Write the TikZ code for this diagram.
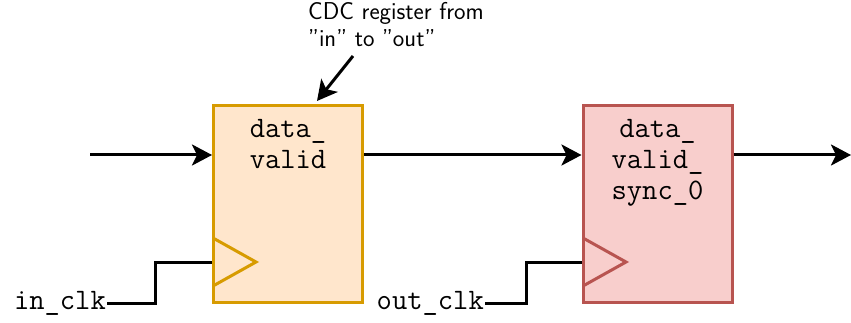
\documentclass[tikz,border=0pt]{standalone}
\usepackage{fontspec}
\usetikzlibrary{arrows.meta}
\definecolor{ffill}{HTML}{FFE6CC}
\definecolor{fline}{HTML}{D79B00}
\definecolor{sfill}{HTML}{F8CECC}
\definecolor{sline}{HTML}{B85450}
\tikzset{
  wire/.style={line width=3pt, black},
  sig/.style={wire, -{Stealth[length=20pt, width=21pt, inset=5pt]}},
  reg/.style={draw, line width=3pt, minimum width=149pt, minimum height=196pt, inner sep=0pt},
  regtext/.style={anchor=base, inner sep=0pt, font=\ttfamily\fontsize{29.7}{31}\selectfont},
  clklabel/.style={anchor=east, inner sep=1pt, text height=12pt, text depth=0pt,
                   font=\ttfamily\fontsize{29.7}{31}\selectfont},
  note/.style={anchor=base west, inner sep=0pt, font=\sffamily\fontsize{24.4}{27}\selectfont}
}
\begin{document}
\begin{tikzpicture}[x=1pt, y=-1pt]
  \useasboundingbox (0,0) rectangle (851,323);

  % registers
  \node[reg, fill=ffill, draw=fline] (r1) at (288,204) {};
  \node[reg, fill=sfill, draw=sline] (r2) at (657.5,204) {};
  \node[regtext] (t1) at (288,138) {\begin{tabular}[t]{@{}c@{}}data\_\\valid\end{tabular}};
  \node[regtext] (t2) at (657.5,138) {\begin{tabular}[t]{@{}c@{}}data\_\\valid\_\\sync\_0\end{tabular}};

  % clock inputs
  \draw[line width=3pt, draw=fline, line join=miter] (213,238) -- (256,262) -- (213,286);
  \draw[line width=3pt, draw=sline, line join=miter] (583,238) -- (626,262) -- (583,286);

  % data path
  \coordinate (din) at (90,155);
  \coordinate (dout) at (851,155);
  \draw[sig] (din) -- (r1.west |- din);
  \draw[sig] (r1.east |- din) -- (r2.west |- din);
  \draw[sig] (r2.east |- din) -- (dout);

  % clock wires
  \node[clklabel] (inclk) at (107,303) {in\_clk};
  \node[clklabel] (outclk) at (485,303) {out\_clk};
  \draw[wire] (inclk.east) -- (155.5,303) -- (155.5,262) -- (r1.west |- 0,262);
  \draw[wire] (outclk.east) -- (526.5,303) -- (526.5,262) -- (r2.west |- 0,262);

  % annotation
  \node[note] (cdc) at (308,20) {\begin{tabular}[t]{@{}l@{}}CDC register from\\"in" to "out"\end{tabular}};
  \coordinate (cdcfrom) at (353,56);
  \draw[sig] (cdcfrom) -- (317,101);
\end{tikzpicture}
\end{document}
